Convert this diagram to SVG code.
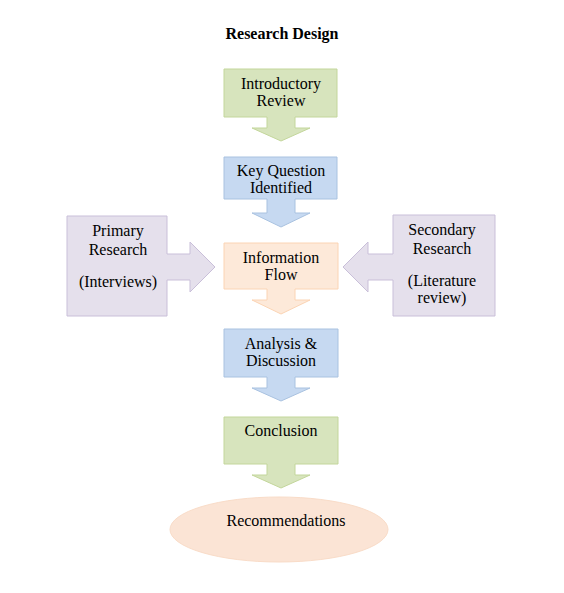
<svg xmlns="http://www.w3.org/2000/svg" width="564" height="593" viewBox="0 0 564 593">
<style>
text{font-family:"Liberation Serif","Times New Roman",serif;font-size:16px;fill:#000;text-anchor:middle}
.title{font-weight:bold}
.green{fill:#d7e4bd;stroke:#c3d69b;stroke-width:1}
.blue{fill:#c6d9f1;stroke:#a9c2e0;stroke-width:1}
.orange{fill:#fde9d9;stroke:#fbd4b4;stroke-width:1}
.purple{fill:#e5e0ec;stroke:#c9bfd9;stroke-width:1}
.oval{fill:#fbe4d5;stroke:#f9dcc8;stroke-width:1}
</style>
<rect width="564" height="593" fill="#fff"/>
<text class="title" x="282" y="39">Research Design</text>
<g id="connectors"></g>
<g id="introductory-review">
<path class="green" d="M224,69 H337 V117 H295 V128 H310 L281,141 L252,128 H267 V117 H224 Z"/>
<text x="281" y="89">Introductory</text>
<text x="281" y="106">Review</text>
</g>
<g id="key-question">
<path class="blue" d="M224,157 H337 V199 H295 V213 H310 L281,227 L252,213 H267 V199 H224 Z"/>
<text x="281" y="176">Key Question</text>
<text x="281" y="193">Identified</text>
</g>
<g id="primary-research">
<path class="purple" d="M67,216 H167 V254 H190 V242 L215,267 L190,292 V280 H167 V316 H67 Z"/>
<text x="118" y="236">Primary</text>
<text x="118" y="255">Research</text>
<text x="118" y="287">(Interviews)</text>
</g>
<g id="secondary-research">
<path class="purple" d="M495,215 H393 V254 H368 V242 L343,267 L368,292 V280 H393 V316 H495 Z"/>
<text x="442" y="235">Secondary</text>
<text x="442" y="254">Research</text>
<text x="442" y="286">(Literature</text>
<text x="442" y="303">review)</text>
</g>
<g id="information-flow">
<path class="orange" d="M224,243 H338 V289 H295 V300 H310 L281,314 L252,300 H267 V289 H224 Z"/>
<text x="281" y="263">Information</text>
<text x="281" y="280">Flow</text>
</g>
<g id="analysis-discussion">
<path class="blue" d="M224,329 H338 V377 H295 V388 H310 L281,401 L252,388 H267 V377 H224 Z"/>
<text x="281" y="349">Analysis &amp;</text>
<text x="281" y="366">Discussion</text>
</g>
<g id="conclusion">
<path class="green" d="M224,417 H338 V464 H295 V475 H310 L281,488 L252,475 H267 V464 H224 Z"/>
<text x="281" y="436">Conclusion</text>
</g>
<g id="recommendations">
<ellipse class="oval" cx="279" cy="529.5" rx="109" ry="32.5"/>
<text x="286" y="526">Recommendations</text>
</g>
</svg>
